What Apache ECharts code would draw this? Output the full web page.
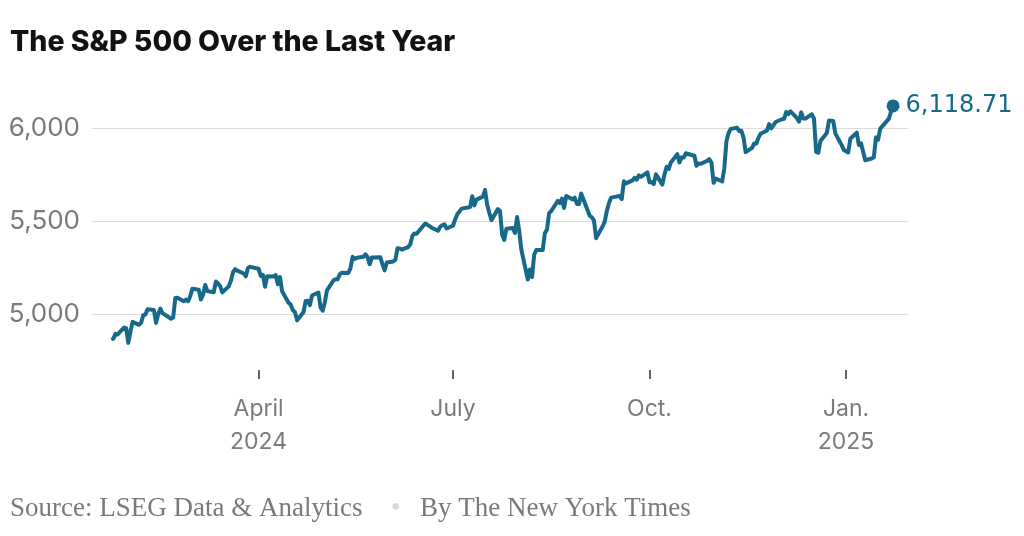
<!DOCTYPE html>
<html>
<head>
<meta charset="utf-8">
<script src="https://cdn.jsdelivr.net/npm/echarts@6/dist/echarts.min.js"></script>
<style>
  html, body { margin: 0; padding: 0; background: #fff; }
  #main { width: 1024px; height: 536px; }
</style>
</head>
<body>
<div id="main"></div>
<script type="text/javascript">
// daily closes, S&P 500
var dates = [
  '2024-01-23','2024-01-24','2024-01-25','2024-01-26','2024-01-29','2024-01-30','2024-01-31',
  '2024-02-01','2024-02-02','2024-02-05','2024-02-06','2024-02-07','2024-02-08','2024-02-09','2024-02-12','2024-02-13','2024-02-14','2024-02-15','2024-02-16','2024-02-20','2024-02-21','2024-02-22','2024-02-23','2024-02-26','2024-02-27','2024-02-28','2024-02-29',
  '2024-03-01','2024-03-04','2024-03-05','2024-03-06','2024-03-07','2024-03-08','2024-03-11','2024-03-12','2024-03-13','2024-03-14','2024-03-15','2024-03-18','2024-03-19','2024-03-20','2024-03-21','2024-03-22','2024-03-25','2024-03-26','2024-03-27','2024-03-28',
  '2024-04-01','2024-04-02','2024-04-03','2024-04-04','2024-04-05','2024-04-08','2024-04-09','2024-04-10','2024-04-11','2024-04-12','2024-04-15','2024-04-16','2024-04-17','2024-04-18','2024-04-19','2024-04-22','2024-04-23','2024-04-24','2024-04-25','2024-04-26','2024-04-29','2024-04-30',
  '2024-05-01','2024-05-02','2024-05-03','2024-05-06','2024-05-07','2024-05-08','2024-05-09','2024-05-10','2024-05-13','2024-05-14','2024-05-15','2024-05-16','2024-05-17','2024-05-20','2024-05-21','2024-05-22','2024-05-23','2024-05-24','2024-05-28','2024-05-29','2024-05-30','2024-05-31',
  '2024-06-03','2024-06-04','2024-06-05','2024-06-06','2024-06-07','2024-06-10','2024-06-11','2024-06-12','2024-06-13','2024-06-14','2024-06-17','2024-06-18','2024-06-20','2024-06-21','2024-06-24','2024-06-25','2024-06-26','2024-06-27','2024-06-28',
  '2024-07-01','2024-07-02','2024-07-03','2024-07-05','2024-07-08','2024-07-09','2024-07-10','2024-07-11','2024-07-12','2024-07-15','2024-07-16','2024-07-17','2024-07-18','2024-07-19','2024-07-22','2024-07-23','2024-07-24','2024-07-25','2024-07-26','2024-07-29','2024-07-30','2024-07-31',
  '2024-08-01','2024-08-02','2024-08-05','2024-08-06','2024-08-07','2024-08-08','2024-08-09','2024-08-12','2024-08-13','2024-08-14','2024-08-15','2024-08-16','2024-08-19','2024-08-20','2024-08-21','2024-08-22','2024-08-23','2024-08-26','2024-08-27','2024-08-28','2024-08-29','2024-08-30',
  '2024-09-03','2024-09-04','2024-09-05','2024-09-06','2024-09-09','2024-09-10','2024-09-11','2024-09-12','2024-09-13','2024-09-16','2024-09-17','2024-09-18','2024-09-19','2024-09-20','2024-09-23','2024-09-24','2024-09-25','2024-09-26','2024-09-27','2024-09-30',
  '2024-10-01','2024-10-02','2024-10-03','2024-10-04','2024-10-07','2024-10-08','2024-10-09','2024-10-10','2024-10-11','2024-10-14','2024-10-15','2024-10-16','2024-10-17','2024-10-18','2024-10-21','2024-10-22','2024-10-23','2024-10-24','2024-10-25','2024-10-28','2024-10-29','2024-10-30','2024-10-31',
  '2024-11-01','2024-11-04','2024-11-05','2024-11-06','2024-11-07','2024-11-08','2024-11-11','2024-11-12','2024-11-13','2024-11-14','2024-11-15','2024-11-18','2024-11-19','2024-11-20','2024-11-21','2024-11-22','2024-11-25','2024-11-26','2024-11-27','2024-11-29',
  '2024-12-02','2024-12-03','2024-12-04','2024-12-05','2024-12-06','2024-12-09','2024-12-10','2024-12-11','2024-12-12','2024-12-13','2024-12-16','2024-12-17','2024-12-18','2024-12-19','2024-12-20','2024-12-23','2024-12-24','2024-12-26','2024-12-27','2024-12-30','2024-12-31',
  '2025-01-02','2025-01-03','2025-01-06','2025-01-07','2025-01-08','2025-01-10','2025-01-13','2025-01-14','2025-01-15','2025-01-16','2025-01-17','2025-01-21','2025-01-22','2025-01-23'
];
var closes = [
  4864.60,4868.55,4894.16,4890.97,4927.93,4924.97,4845.65,
  4906.19,4958.61,4942.81,4954.23,4995.06,4997.91,5026.61,5021.84,4953.17,5000.62,5029.73,5005.57,4975.51,4981.80,5087.03,5088.80,5069.53,5078.18,5069.76,5096.27,
  5137.08,5130.95,5078.65,5104.76,5157.36,5123.69,5117.94,5175.27,5165.31,5150.48,5117.09,5149.42,5178.51,5224.62,5241.53,5234.18,5218.19,5203.58,5248.49,5254.35,
  5243.77,5205.81,5211.49,5147.21,5204.34,5202.39,5209.91,5160.64,5199.06,5123.41,5061.82,5051.41,5022.21,5011.12,4967.23,5010.60,5070.55,5071.63,5048.42,5099.96,5116.17,5035.69,
  5018.39,5064.20,5127.79,5180.74,5187.70,5187.67,5214.08,5222.68,5221.42,5246.68,5308.15,5297.10,5303.27,5308.13,5321.41,5307.01,5267.84,5304.72,5306.04,5266.95,5235.48,5277.51,
  5283.40,5291.34,5354.03,5352.96,5346.99,5360.79,5375.32,5421.03,5433.74,5431.60,5473.23,5487.03,5473.17,5464.62,5447.87,5469.30,5477.90,5482.87,5460.48,
  5475.09,5509.01,5537.02,5567.19,5572.85,5576.98,5633.91,5584.54,5615.35,5631.22,5667.20,5588.27,5544.59,5505.00,5564.41,5555.74,5427.13,5399.22,5459.10,5463.54,5436.44,5522.30,
  5446.68,5346.56,5186.33,5240.03,5199.50,5319.31,5344.16,5344.39,5434.43,5455.21,5543.22,5554.25,5608.25,5597.12,5620.85,5570.64,5634.61,5616.84,5625.80,5592.18,5591.96,5648.40,
  5528.93,5520.07,5503.41,5408.42,5471.05,5495.52,5554.13,5595.76,5626.02,5633.09,5634.58,5618.26,5713.64,5702.55,5718.57,5732.93,5722.26,5745.37,5738.17,5762.48,
  5708.75,5709.54,5699.94,5751.07,5695.94,5751.13,5792.04,5780.05,5815.03,5859.85,5815.26,5842.47,5841.47,5864.67,5853.98,5851.20,5797.42,5809.86,5808.12,5823.52,5832.92,5813.67,5705.45,
  5728.80,5712.69,5782.76,5929.04,5973.10,5995.54,6001.35,5983.99,5985.38,5949.17,5870.62,5893.62,5916.98,5917.11,5948.71,5969.34,5987.37,6021.63,5998.74,6032.38,
  6047.15,6049.88,6086.49,6075.11,6090.27,6052.85,6034.91,6084.19,6051.25,6051.09,6074.08,6050.61,5872.16,5867.08,5930.85,5974.07,6040.04,6037.59,5970.84,5906.94,5881.63,
  5868.55,5942.47,5975.38,5909.03,5918.25,5827.04,5836.22,5842.91,5949.91,5937.34,5996.66,6049.24,6086.37,6118.71
];
var yTicks = [5000, 5500, 6000];
var xTickDates = ['2024-04-01', '2024-07-01', '2024-10-01', '2025-01-01'];
var xTickLabels = ['April\n2024', 'July', 'Oct.', 'Jan.\n2025'];

var lineColor = '#17698a';
var grey = '#7a7a7a';

// dates -> timestamps (x is a plain value axis in ms)
function ts(s) {
  var p = s.split('-');
  return Date.UTC(+p[0], +p[1] - 1, +p[2]);
}

var seriesData = [];
for (var i = 0; i < dates.length; i++) {
  seriesData.push([ts(dates[i]), closes[i]]);
}
var last = seriesData[seriesData.length - 1];

var xTickValues = xTickDates.map(ts);

// y axis runs every 100, only 5000/5500/6000 get a line and label
var yMin = 4700, yMax = 6500, yStep = 100;
var splitColors = [];
for (var v = yMin; v <= yMax; v += yStep) {
  splitColors.push(yTicks.indexOf(v) >= 0 ? '#dddddd' : 'rgba(0,0,0,0)');
}

var myChart = echarts.init(document.getElementById('main'));

var option = {
  animation: false,
  title: {
    text: 'The S&P 500 Over the Last Year',
    left: 5,
    top: 23,
    textStyle: {
      fontFamily: 'Inter',
      fontWeight: 800,
      fontSize: 28.5,
      color: '#121212'
    }
  },
  grid: {
    left: 92,
    right: 116,
    top: 35,
    bottom: 166,
    containLabel: false
  },
  xAxis: {
    type: 'value',
    min: ts('2024-01-14'),
    max: ts('2025-01-30'),
    axisLine: { show: false },
    splitLine: { show: false },
    axisTick: {
      show: true,
      customValues: xTickValues,
      length: 9,
      lineStyle: { color: '#333', width: 1.5 }
    },
    axisLabel: {
      customValues: xTickValues,
      margin: 23,
      fontFamily: 'Inter',
      fontSize: 23,
      lineHeight: 33,
      color: grey,
      formatter: function (val) {
        var idx = xTickValues.indexOf(val);
        return idx >= 0 ? xTickLabels[idx] : '';
      }
    }
  },
  yAxis: {
    type: 'value',
    min: yMin,
    max: yMax,
    interval: yStep,
    axisLine: { show: false },
    axisTick: { show: false },
    axisLabel: {
      margin: 12,
      fontFamily: 'Inter',
      fontSize: 26,
      color: grey,
      formatter: function (val) {
        return yTicks.indexOf(val) >= 0 ? val.toLocaleString('en-US') : '';
      }
    },
    splitLine: {
      show: true,
      lineStyle: { color: splitColors, width: 1.2 }
    }
  },
  series: [
    {
      type: 'line',
      data: seriesData,
      showSymbol: false,
      lineStyle: { color: lineColor, width: 4, join: 'round' },
      z: 2
    },
    {
      type: 'scatter',
      data: [last],
      symbol: 'circle',
      symbolSize: 13,
      itemStyle: { color: lineColor, opacity: 1 },
      label: {
        show: true,
        position: 'right',
        distance: 6,
        fontFamily: 'DejaVu Sans',
        fontSize: 24,
        color: lineColor,
        formatter: function (p) {
          return p.value[1].toLocaleString('en-US', { minimumFractionDigits: 2, maximumFractionDigits: 2 });
        }
      },
      z: 3
    }
  ],
  graphic: [
    {
      type: 'text',
      left: 10,
      top: 495,
      style: {
        text: 'Source: LSEG Data & Analytics',
        font: '27px "Liberation Serif"',
        fill: grey
      }
    },
    {
      type: 'text',
      left: 391,
      top: 495,
      style: {
        text: '•',
        font: '27px "Liberation Serif"',
        fill: '#d6d6d6'
      }
    },
    {
      type: 'text',
      left: 420,
      top: 495,
      style: {
        text: 'By The New York Times',
        font: '27px "Liberation Serif"',
        fill: grey
      }
    }
  ]
};

myChart.setOption(option);
</script>
</body>
</html>
